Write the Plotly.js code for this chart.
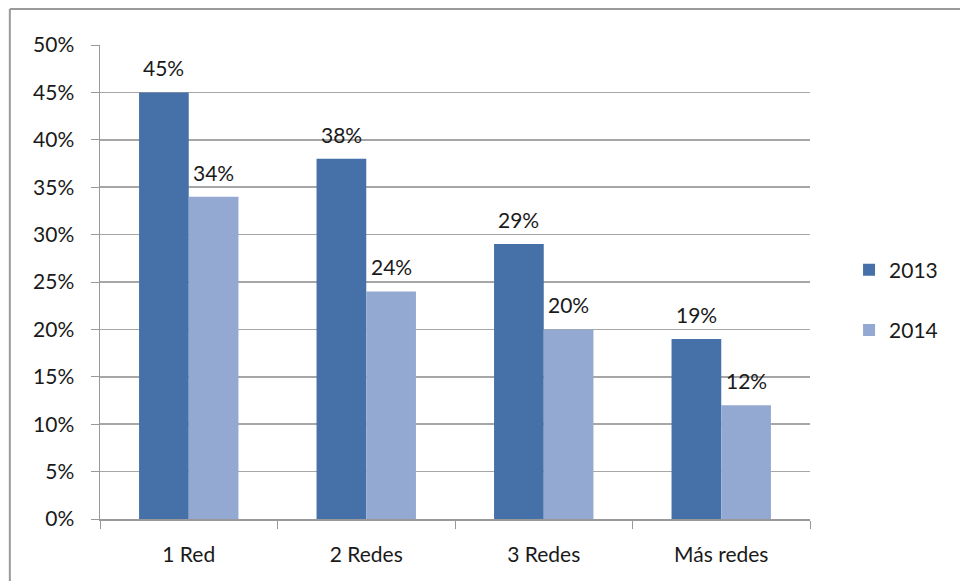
<!DOCTYPE html>
<html>
<head>
<meta charset="utf-8">
<script src="https://cdn.plot.ly/plotly-3.0.1.min.js"></script>
<style>
html,body{margin:0;padding:0;background:#fff;}
#chart{width:960px;height:581px;}
</style>
</head>
<body>
<div id="chart"></div>
<script>
const categories = ["1 Red", "2 Redes", "3 Redes", "Más redes"];
const values2013 = [0.45, 0.38, 0.29, 0.19];
const values2014 = [0.34, 0.24, 0.20, 0.12];
const yTickVals = [0, 0.05, 0.10, 0.15, 0.20, 0.25, 0.30, 0.35, 0.40, 0.45, 0.50];
const yTickText = ["0%", "5%", "10%", "15%", "20%", "25%", "30%", "35%", "40%", "45%", "50%"];

const font = {family: "Lato, Open Sans, sans-serif", size: 21, color: "#1a1a1a"};
const pct = v => Math.round(v * 100) + "%";

const traces = [
  {
    type: "bar", name: "2013", x: categories, y: values2013,
    marker: {color: "#4671a8"}, legendgroup: "a", hoverinfo: "none"
  },
  {
    type: "bar", name: "2014", x: categories, y: values2014,
    marker: {color: "#94a9d2"}, legendgroup: "b", hoverinfo: "none"
  }
];

const annotations = [];
[[values2013, -25], [values2014, 25]].forEach(([vals, dx]) => {
  vals.forEach((v, i) => {
    annotations.push({
      x: categories[i], y: v, xref: "x", yref: "y",
      text: pct(v), showarrow: false, xshift: dx, yshift: 10,
      xanchor: "center", yanchor: "bottom", font: font
    });
  });
});

const layout = {
  width: 960, height: 581,
  margin: {l: 100, r: 150, t: 45, b: 62},
  paper_bgcolor: "#fff", plot_bgcolor: "#fff",
  font: font,
  barmode: "group", bargap: 0.44, bargroupgap: 0,
  showlegend: true,
  legend: {
    x: 1.055, y: 0.462, xanchor: "left", yanchor: "middle",
    traceorder: "grouped", tracegroupgap: 30, font: font
  },
  xaxis: {
    type: "category", tickson: "boundaries", ticks: "outside", ticklen: 8,
    tickcolor: "#999", showline: true, linecolor: "#999", linewidth: 1.5,
    showgrid: false, ticklabelstandoff: 16, tickfont: font, fixedrange: true
  },
  yaxis: {
    range: [0, 0.5], tickvals: yTickVals, ticktext: yTickText,
    ticks: "outside", ticklen: 8, tickcolor: "#999",
    showline: true, linecolor: "#999", linewidth: 1.5,
    showgrid: true, gridcolor: "#a6a6a6", gridwidth: 1.5,
    zeroline: false, tickfont: font, ticklabelstandoff: 12, fixedrange: true
  },
  annotations: annotations,
  shapes: [
    {type: "line", xref: "paper", yref: "paper", x0: -0.127, x1: 1.3, y0: 1.076, y1: 1.076,
     line: {color: "#9a9a9a", width: 2}},
    {type: "line", xref: "paper", yref: "paper", x0: -0.127, x1: -0.127, y0: 1.076, y1: -0.2,
     line: {color: "#9a9a9a", width: 2}}
  ]
};

Plotly.newPlot("chart", traces, layout, {displayModeBar: false, staticPlot: true});
</script>
</body>
</html>
